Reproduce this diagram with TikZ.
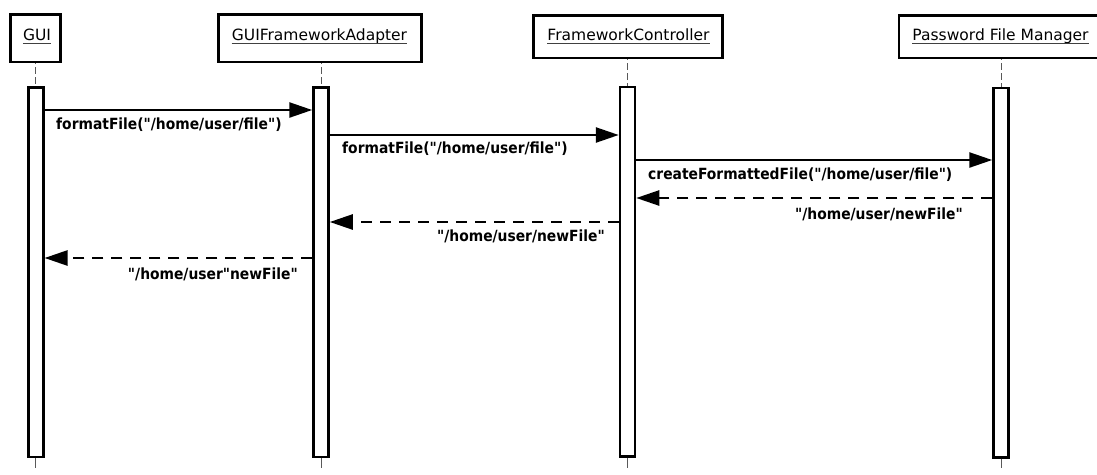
\documentclass[tikz,border=0pt]{standalone}
\usepackage{fontspec}
\setmainfont{DejaVu Sans}
\newfontfamily\lblfont[FakeStretch=0.9]{DejaVu Sans}
\usetikzlibrary{arrows.meta}
\begin{document}
\begin{tikzpicture}[x=1pt,y=-1pt,
  hdr/.style={draw, line width=2.5pt, inner sep=0pt, fill=white},
  htext/.style={inner sep=0pt, anchor=base, font=\fontsize{15.5}{18}\selectfont},
  ulline/.style={line width=0.8pt, black!75},
  lifetop/.style={line width=0.7pt, black!65, dash pattern=on 7pt off 3pt, dash phase=-4pt},
  lifebot/.style={line width=0.7pt, black!65},
  actbar/.style={draw, line width=2.5pt, fill=white, inner sep=0pt, minimum width=15pt, minimum height=369.5pt},
  msg/.style={line width=2.5pt, -{Triangle[length=23pt,width=15pt]}},
  ret/.style={msg, dash pattern=on 11pt off 8pt},
  lbl/.style={inner sep=0pt, font=\lblfont\bfseries\fontsize{15.4}{18}\selectfont}
]
\useasboundingbox (0,0) rectangle (1097,474);

% header boxes
\node[hdr, minimum width=50pt, minimum height=47.5pt] (gui) at (35.5,38) {};
\node[hdr, minimum width=203pt, minimum height=47.5pt] (gfa) at (320,38) {};
\node[hdr, minimum width=189pt, minimum height=42.5pt] (fc) at (628,36.5) {};
\node[hdr, minimum width=203pt, minimum height=42.5pt] (pfm) at (1000.5,36.5) {};

\node[htext] (guit) at (37,40) {GUI};
\node[htext] (gfat) at (319.5,40) {GUIFrameworkAdapter};
\node[htext] (fct) at (628.5,40) {FrameworkController};
\node[htext] (pfmt) at (1000.5,40) {Password File Manager};
\foreach \t in {guit,gfat,fct,pfmt}
  \draw[ulline] ([yshift=-3.5pt]\t.base west) -- ([yshift=-3.5pt]\t.base east);

% activation bars
\node[actbar] (guib) at (35.8,272) {};
\node[actbar] (gfab) at (321,272) {};
\node[actbar] (fcb) at (627.5,271.5) {};
\node[actbar] (pfmb) at (1001,272.5) {};

% lifelines
\draw[lifetop] (gui.south -| guib.north) -- (guib.north);
\draw[lifetop] (gfa.south -| gfab.north) -- (gfab.north);
\draw[lifetop] (fc.south -| fcb.north) -- (fcb.north);
\draw[lifetop] (pfm.south -| pfmb.north) -- (pfmb.north);
\coordinate (bot) at (0,468);
\foreach \b in {guib,gfab,fcb,pfmb}
  \draw[lifebot] (\b.south) -- (\b.south |- bot);

% messages
\coordinate (m1) at (0,110);
\coordinate (m2) at (0,135);
\coordinate (m3) at (0,160);
\coordinate (m4) at (0,198);
\coordinate (m5) at (0,222);
\coordinate (m6) at (0,258);
\draw[msg] (guib.east |- m1) -- (gfab.west |- m1);
\draw[msg] (gfab.east |- m2) -- (fcb.west |- m2);
\draw[msg] (fcb.east |- m3) -- (pfmb.west |- m3);
\draw[ret] (pfmb.west |- m4) -- (fcb.east |- m4);
\draw[ret] (fcb.west |- m5) -- (gfab.east |- m5);
\draw[ret] (gfab.west |- m6) -- (guib.east |- m6);

% labels
\node[lbl, anchor=base west] (l1) at (56,129) {formatFile("/home/user/file")};
\node[lbl, anchor=base west] (l2) at (342,153) {formatFile("/home/user/file")};
\node[lbl, anchor=base west] (l3) at (648,179) {createFormattedFile("/home/user/file")};
\node[lbl, anchor=base east] (l4) at (963,219) {"/home/user/newFile"};
\node[lbl, anchor=base east] (l5) at (605,241) {"/home/user/newFile"};
\node[lbl, anchor=base east] (l6) at (298,279) {"/home/user"newFile"};
\end{tikzpicture}
\end{document}
